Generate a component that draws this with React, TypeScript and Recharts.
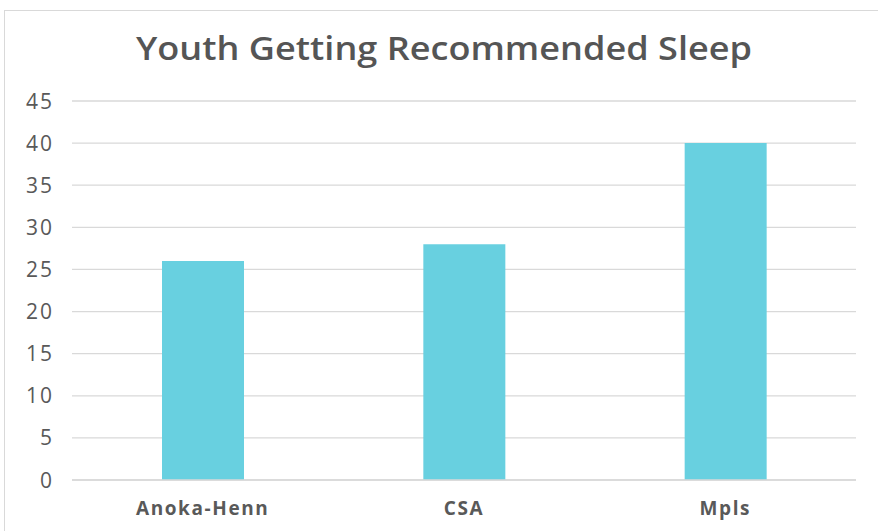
import React from "react";
import { BarChart, Bar, XAxis, YAxis, CartesianGrid } from "recharts";

const categories = ["Anoka-Henn", "CSA", "Mpls"];
const values = [26, 28, 40];
const yTicks = [0, 5, 10, 15, 20, 25, 30, 35, 40, 45];
const title = "Youth Getting Recommended Sleep";

const data = categories.map((c, i) => ({ name: c, value: values[i] }));

const XTick = (props: any) => {
  const { x, y, payload } = props;
  return (
    <text
      x={x}
      y={y}
      dy={27}
      textAnchor="middle"
      fill="#595959"
      fontFamily="'Open Sans', sans-serif"
      fontWeight={700}
      fontSize={19}
      letterSpacing={1.6}
    >
      {payload.value}
    </text>
  );
};

const YTick = (props: any) => {
  const { x, y, payload } = props;
  return (
    <text
      x={x}
      y={y}
      dy={7.5}
      textAnchor="end"
      fill="#595959"
      fontFamily="'Open Sans', sans-serif"
      fontWeight={400}
      fontSize={21}
      letterSpacing={2}
    >
      {payload.value}
    </text>
  );
};

export default function App() {
  return (
    <div
      style={{
        position: "absolute",
        left: 0,
        top: 0,
        width: 878,
        height: 531,
        overflow: "hidden",
        background: "#fff",
      }}
    >
      <div
        style={{
          position: "absolute",
          left: 4,
          top: 10,
          width: 920,
          height: 600,
          border: "1px solid #d9d9d9",
          boxSizing: "border-box",
        }}
      />
      <svg
        width={878}
        height={90}
        style={{ position: "absolute", left: 0, top: 0 }}
      >
        <text
          x={444}
          y={60}
          textAnchor="middle"
          fill="#555555"
          fontFamily="'Open Sans', sans-serif"
          fontWeight={600}
          fontSize={32}
          textLength={616}
          lengthAdjust="spacingAndGlyphs"
        >
          {title}
        </text>
      </svg>
      <div style={{ position: "absolute", left: 0, top: 0 }}>
        <BarChart
          width={878}
          height={531}
          data={data}
          margin={{ top: 101, right: 22, bottom: 21, left: 0 }}
        >
          <CartesianGrid vertical={false} stroke="#d9d9d9" strokeWidth={1.3} />
          <XAxis
            dataKey="name"
            axisLine={{ stroke: "#d9d9d9", strokeWidth: 1.3 }}
            tickLine={false}
            tick={<XTick />}
            height={30}
            interval={0}
          />
          <YAxis
            domain={[0, 45]}
            ticks={yTicks}
            axisLine={false}
            tickLine={false}
            tick={<YTick />}
            tickMargin={12}
            width={72}
            interval={0}
          />
          <Bar
            dataKey="value"
            fill="#68D0E0"
            barSize={82}
            isAnimationActive={false}
          />
        </BarChart>
      </div>
    </div>
  );
}
